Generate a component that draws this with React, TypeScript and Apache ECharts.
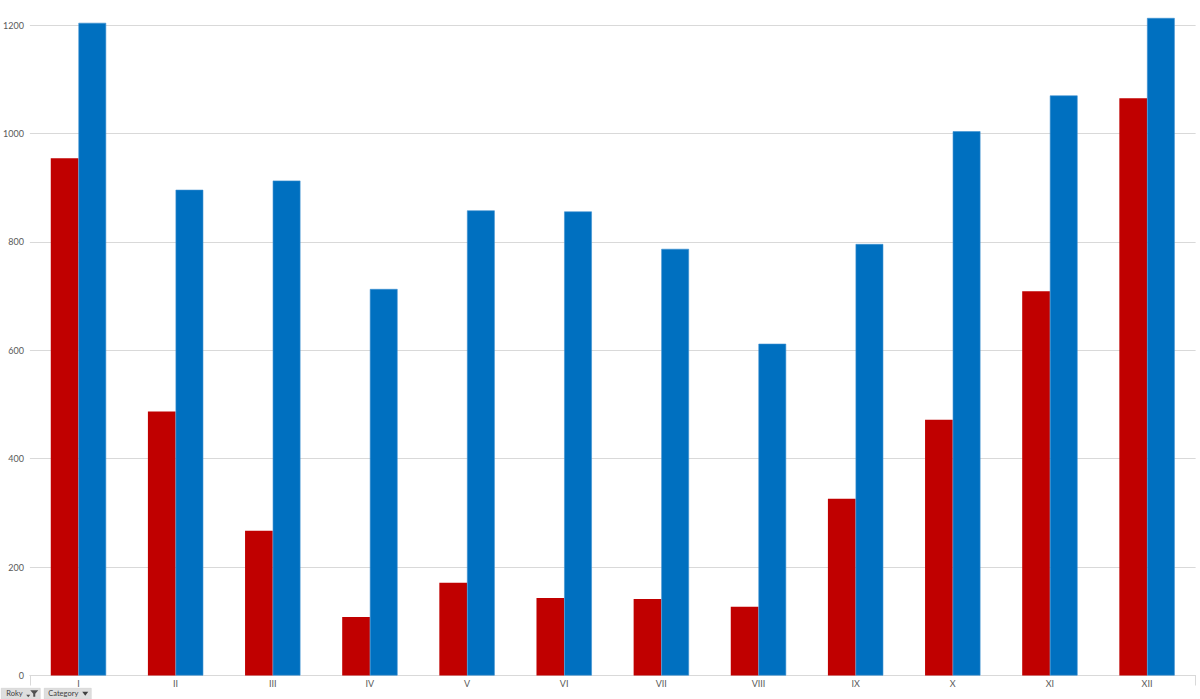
import React, { useEffect, useRef } from "react";
import * as echarts from "echarts";

const categories = ["I", "II", "III", "IV", "V", "VI", "VII", "VIII", "IX", "X", "XI", "XII"];
const redValues = [954, 487, 267, 108, 171, 143, 141, 127, 326, 472, 709, 1065];
const blueValues = [1204, 896, 913, 713, 858, 856, 787, 612, 796, 1004, 1070, 1213];
const yTicks = { min: 0, max: 1200, interval: 200 };
const filterButtons = ["Roky", "Category"];

export default function App() {
  const ref = useRef<HTMLDivElement>(null);
  useEffect(() => {
    document.body.style.margin = "0";
    if (!ref.current) return;
    const chart = echarts.init(ref.current, null, { renderer: "svg" });
    const labelFont = "Lato, 'Open Sans', sans-serif";
    chart.setOption({
      animation: false,
      backgroundColor: "#ffffff",
      grid: { left: 28.4, right: 4.4, top: 25, bottom: 23.5, containLabel: false },
      xAxis: {
        type: "category",
        data: categories,
        axisLine: { show: true, lineStyle: { color: "#d9d9d9", width: 1 } },
        axisTick: {
          show: true,
          length: 10,
          lineStyle: { color: "#d9d9d9" },
          interval: (i: number) => i === 0,
        },
        axisLabel: { color: "#595959", fontSize: 9, fontFamily: labelFont, margin: 3.5 },
      },
      yAxis: {
        type: "value",
        min: yTicks.min,
        max: yTicks.max,
        interval: yTicks.interval,
        axisLine: { show: false },
        axisTick: { show: false },
        splitLine: { lineStyle: { color: "#d9d9d9", width: 1 } },
        axisLabel: {
          color: "#595959",
          fontSize: 9,
          fontFamily: labelFont,
          margin: 6,
          formatter: (v: number) => String(v),
        },
      },
      series: [
        {
          type: "bar",
          data: redValues,
          clip: false,
          barGap: "0%",
          barCategoryGap: "43%",
          itemStyle: { color: "#C00000" },
        },
        {
          type: "bar",
          data: blueValues,
          clip: false,
          barGap: "0%",
          barCategoryGap: "43%",
          itemStyle: { color: "#0070C0", borderColor: "#3a8fd0", borderWidth: 0.6 },
        },
      ],
      graphic: [
        {
          type: "group",
          left: 1,
          top: 688,
          children: [
            { type: "rect", shape: { x: 0, y: 0, width: 39, height: 11 }, style: { fill: "#dedede", stroke: "#c8c8c8", lineWidth: 0.5 } },
            { type: "text", x: 5, y: 5.5, style: { text: filterButtons[0], fontSize: 7.5, fill: "#404040", fontFamily: labelFont, verticalAlign: "middle" } },
            { type: "polygon", shape: { points: [[29, 2], [37, 2], [34, 5.5], [34, 8.5], [32, 8.5], [32, 5.5]] }, style: { fill: "#505050" } },
            { type: "polygon", shape: { points: [[25, 6.5], [29, 6.5], [27, 9]] }, style: { fill: "#505050" } },
            { type: "rect", shape: { x: 43, y: 0, width: 47, height: 11 }, style: { fill: "#dedede", stroke: "#c8c8c8", lineWidth: 0.5 } },
            { type: "text", x: 47, y: 5.5, style: { text: filterButtons[1], fontSize: 7.5, fill: "#404040", fontFamily: labelFont, verticalAlign: "middle" } },
            { type: "polygon", shape: { points: [[81, 3.5], [87, 3.5], [84, 7.5]] }, style: { fill: "#404040" } },
          ],
        },
      ],
    });
    return () => chart.dispose();
  }, []);
  return (
    <div
      ref={ref}
      style={{ position: "fixed", left: 0, top: 0, width: 1200, height: 699 }}
    />
  );
}
